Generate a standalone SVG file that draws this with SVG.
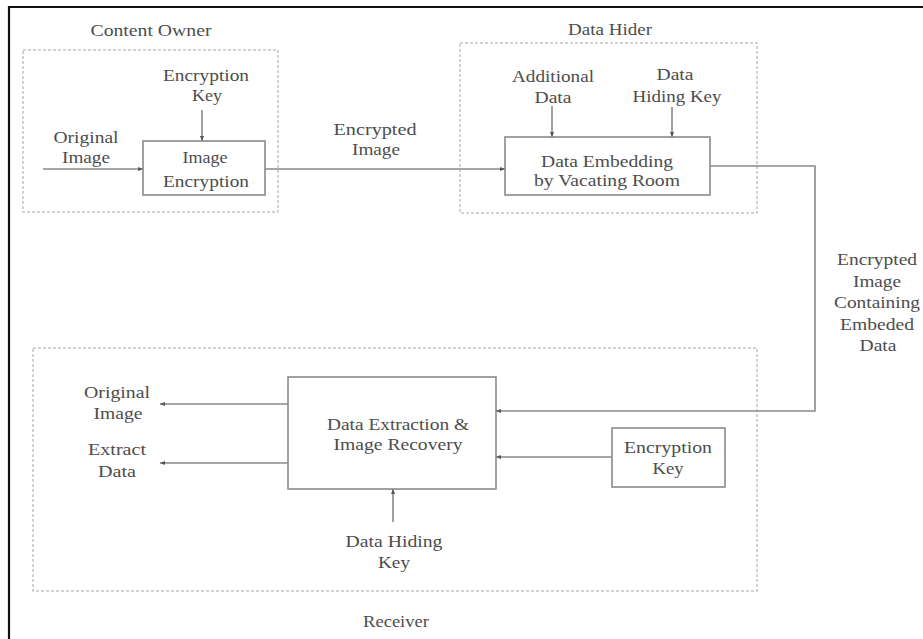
<svg xmlns="http://www.w3.org/2000/svg" width="923" height="639" viewBox="0 0 923 639" font-family="Liberation Serif, DejaVu Serif, Times New Roman, serif">
<style>
text{font-size:17px;fill:#4d4d4d;text-anchor:middle}
.grp{fill:none;stroke:#c4c4c4;stroke-width:1.5;stroke-dasharray:3 2}
.box{fill:#fff;stroke:#8a8a8a;stroke-width:1.6}
.con{fill:none;stroke:#8a8a8a;stroke-width:1.6}
</style>
<defs>
<marker id="ah" viewBox="0 0 10 10" refX="10" refY="5" markerWidth="5" markerHeight="5" orient="auto" markerUnits="userSpaceOnUse">
<path d="M0,1 L10,5 L0,9 z" fill="#555"/>
</marker>
</defs>
<rect width="923" height="639" fill="#fff"/>
<path d="M9,639 V7 H923" fill="none" stroke="#111" stroke-width="2.2"/>

<g id="content-owner">
<rect class="grp" x="23" y="50" width="255" height="162"/>
<text x="151" y="36" textLength="121" lengthAdjust="spacingAndGlyphs">Content Owner</text>
</g>
<g id="data-hider">
<rect class="grp" x="460" y="43" width="297" height="170"/>
<text x="610" y="35" textLength="84" lengthAdjust="spacingAndGlyphs">Data Hider</text>
</g>
<g id="receiver">
<rect class="grp" x="33" y="348" width="724" height="243"/>
<text x="396" y="627" textLength="66" lengthAdjust="spacingAndGlyphs">Receiver</text>
</g>

<g id="enc-key-1">
<text x="206" y="81" textLength="86" lengthAdjust="spacingAndGlyphs">Encryption</text>
<text x="207" y="101" textLength="30" lengthAdjust="spacingAndGlyphs">Key</text>
</g>
<g id="original-image-in">
<text x="86" y="143" textLength="65" lengthAdjust="spacingAndGlyphs">Original</text>
<text x="86" y="163" textLength="48" lengthAdjust="spacingAndGlyphs">Image</text>
</g>
<g id="image-encryption">
<rect class="box" x="143" y="141" width="122" height="54"/>
<text x="205" y="163" textLength="45" lengthAdjust="spacingAndGlyphs">Image</text>
<text x="206" y="187" textLength="86" lengthAdjust="spacingAndGlyphs">Encryption</text>
</g>
<g id="additional-data">
<text x="553" y="82" textLength="82" lengthAdjust="spacingAndGlyphs">Additional</text>
<text x="553" y="103" textLength="37" lengthAdjust="spacingAndGlyphs">Data</text>
</g>
<g id="data-hiding-key-1">
<text x="675" y="80" textLength="37" lengthAdjust="spacingAndGlyphs">Data</text>
<text x="677" y="102" textLength="89" lengthAdjust="spacingAndGlyphs">Hiding Key</text>
</g>
<g id="data-embedding">
<rect class="box" x="505" y="137" width="205" height="58"/>
<text x="607" y="167" textLength="132" lengthAdjust="spacingAndGlyphs">Data Embedding</text>
<text x="607" y="186" textLength="146" lengthAdjust="spacingAndGlyphs">by Vacating Room</text>
</g>
<g id="data-extraction">
<rect class="box" x="288" y="377" width="208" height="112"/>
<text x="398" y="430" textLength="142" lengthAdjust="spacingAndGlyphs">Data Extraction &amp;</text>
<text x="398" y="450" textLength="129" lengthAdjust="spacingAndGlyphs">Image Recovery</text>
</g>
<g id="enc-key-2">
<rect class="box" x="612" y="428" width="113" height="59"/>
<text x="668" y="453" textLength="88" lengthAdjust="spacingAndGlyphs">Encryption</text>
<text x="668" y="474" textLength="31" lengthAdjust="spacingAndGlyphs">Key</text>
</g>
<g id="data-hiding-key-2">
<text x="394" y="547" textLength="97" lengthAdjust="spacingAndGlyphs">Data Hiding</text>
<text x="394" y="568" textLength="32" lengthAdjust="spacingAndGlyphs">Key</text>
</g>
<g id="original-image-out">
<text x="117" y="398" textLength="66" lengthAdjust="spacingAndGlyphs">Original</text>
<text x="118" y="419" textLength="49" lengthAdjust="spacingAndGlyphs">Image</text>
</g>
<g id="extract-data">
<text x="117" y="455" textLength="58" lengthAdjust="spacingAndGlyphs">Extract</text>
<text x="117" y="477" textLength="38" lengthAdjust="spacingAndGlyphs">Data</text>
</g>

<g id="connectors">
<line class="con" x1="202" y1="110" x2="202" y2="141" marker-end="url(#ah)"/>
<line class="con" x1="43" y1="169" x2="143" y2="169" marker-end="url(#ah)"/>
<line class="con" x1="265" y1="169" x2="505" y2="169" marker-end="url(#ah)"/>
<text x="375" y="135" textLength="83" lengthAdjust="spacingAndGlyphs">Encrypted</text>
<text x="376" y="155" textLength="48" lengthAdjust="spacingAndGlyphs">Image</text>
<line class="con" x1="552" y1="106" x2="552" y2="137" marker-end="url(#ah)"/>
<line class="con" x1="672" y1="107" x2="672" y2="137" marker-end="url(#ah)"/>
<polyline class="con" points="710,166 815,166 815,411 496,411" marker-end="url(#ah)"/>
<text x="877" y="265" textLength="80" lengthAdjust="spacingAndGlyphs">Encrypted</text>
<text x="877" y="287" textLength="48" lengthAdjust="spacingAndGlyphs">Image</text>
<text x="877" y="308" textLength="86" lengthAdjust="spacingAndGlyphs">Containing</text>
<text x="877" y="330" textLength="74" lengthAdjust="spacingAndGlyphs">Embeded</text>
<text x="878" y="351" textLength="37" lengthAdjust="spacingAndGlyphs">Data</text>
<line class="con" x1="612" y1="457" x2="496" y2="457" marker-end="url(#ah)"/>
<line class="con" x1="393" y1="522" x2="393" y2="489" marker-end="url(#ah)"/>
<line class="con" x1="288" y1="404" x2="160" y2="404" marker-end="url(#ah)"/>
<line class="con" x1="288" y1="463" x2="160" y2="463" marker-end="url(#ah)"/>
</g>
</svg>
